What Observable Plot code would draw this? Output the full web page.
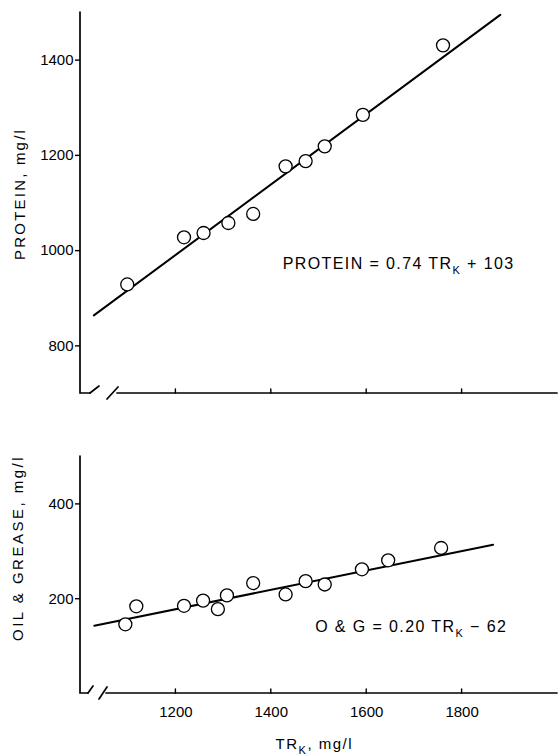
<!DOCTYPE html>
<html>
<head>
<meta charset="utf-8">
<script src="https://cdn.jsdelivr.net/npm/d3@7"></script>
<script src="https://cdn.jsdelivr.net/npm/@observablehq/plot@0.6"></script>
<style>
  html, body { margin: 0; padding: 0; background: #fff; }
  #chart > * { display: block; }
</style>
</head>
<body>
<div id="chart"></div>
<script>
// ---- data ----
const trkProtein = [1098, 1217, 1258, 1310, 1362, 1430, 1472, 1512, 1592, 1760];
const protein    = [929, 1028, 1037, 1058, 1077, 1177, 1188, 1219, 1285, 1431];

const trkOG      = [1094, 1117, 1217, 1257, 1288, 1307, 1362, 1430, 1472, 1512, 1590, 1645, 1756];
const oilGrease  = [146, 184, 185, 196, 178, 207, 233, 209, 237, 230, 262, 281, 307];

// regression lines (end points)
const proteinFitTrk = [1028, 1880];
const proteinFitVal = [864, 1495];
const ogFitTrk = [1029, 1865];
const ogFitVal = [143, 314];

const xTicks = [1200, 1400, 1600, 1800];
const proteinTicks = [800, 1000, 1200, 1400];
const ogTicks = [200, 400];

const proteinEquation = ["PROTEIN = 0.74 TR", "K", " + 103"];
const ogEquation = ["O & G = 0.20 TR", "K", " \u2212 62"];
const proteinTitle = "PROTEIN, mg/l";
const ogTitle = "OIL & GREASE, mg/l";
const xTitle = ["TR", "K", ", mg/l"];

// ---- helpers ----
const FONT = "Liberation Sans, Arial, sans-serif";
const topData = trkProtein.map((t, i) => ({trk: t, v: protein[i]}));
const botData = trkOG.map((t, i) => ({trk: t, v: oilGrease[i]}));
const topFit = proteinFitTrk.map((t, i) => ({trk: t, v: proteinFitVal[i]}));
const botFit = ogFitTrk.map((t, i) => ({trk: t, v: ogFitVal[i]}));

function richText(parent, parts, attrs) {
  const t = parent.append("text").attr("fill", "#000").attr("stroke", "none")
    .attr("font-family", FONT).attr("text-anchor", "start");
  for (const [k, v] of Object.entries(attrs)) t.attr(k, v);
  parts.forEach((p, i) => {
    const s = t.append("tspan").attr("fill", "#000").text(p);
    if (i === 1) s.attr("font-size", 11).attr("dy", 5);
    if (i === 2) s.attr("dy", -5);
  });
  return t;
}

function decorations(cfg) {
  return (index, scales) => {
    const x = scales.x, y = scales.y;
    const ox = x(cfg.xDomain[0]), right = x(cfg.xDomain[1]);
    const oy = y(cfg.yDomain[0]), top = y(cfg.yDomain[1]);
    const g = d3.create("svg:g");
    const lines = g.append("g").attr("fill", "none").attr("stroke", "#000")
      .attr("stroke-width", 1.7).attr("stroke-linecap", "round");
    // y axis line and corner
    lines.append("path").attr("d", `M${ox},${top}V${oy}H${ox + cfg.brk[0]}`);
    // axis break slashes
    lines.append("path").attr("d", `M${ox + cfg.brk[0]},${oy}L${ox + cfg.brk[1]},${oy - 7}`);
    lines.append("path").attr("d", `M${ox + cfg.brk[2]},${oy + 6}L${ox + cfg.brk[3]},${oy - 6}`);
    // x axis line
    lines.append("path").attr("d", `M${ox + cfg.brk[3] - 1},${oy}H${right}`);
    // inward x ticks
    for (const t of xTicks) {
      lines.append("path").attr("stroke-width", 1.4).attr("d", `M${x(t)},${oy}V${oy - 4}`);
    }
    // y title (rotated)
    g.append("text").attr("fill", "#000").attr("font-family", FONT)
      .attr("font-size", 15).attr("letter-spacing", cfg.titleSpacing)
      .attr("text-anchor", "middle").attr("dy", "0.35em")
      .attr("transform", `translate(${cfg.titleX},${y(cfg.titleAt)}) rotate(-90)`)
      .text(cfg.title);
    // equation
    richText(g, cfg.equation, {
      x: x(cfg.eqAt[0]), y: y(cfg.eqAt[1]), "font-size": 16, "letter-spacing": 1.4
    });
    if (cfg.xTitle) {
      richText(g, cfg.xTitle, {
        x: x(cfg.xTitleAt), y: cfg.xTitleY, "font-size": 15, "letter-spacing": 1.5
      });
    }
    return g.node();
  };
}

const common = {
  width: 558,
  marginLeft: 80,
  marginRight: 1,
  x: {domain: [1000, 2000], axis: null},
  style: {fontFamily: FONT, fontSize: "15px", background: "white", color: "black", overflow: "visible"}
};

const topPlot = Plot.plot({
  ...common,
  height: 400,
  marginTop: 12,
  marginBottom: 7,
  y: {domain: [700, 1500], axis: null},
  marks: [
    Plot.axisY(proteinTicks, {tickSize: 5, tickPadding: 2, tickFormat: d => String(d), label: null, fontSize: 15, strokeWidth: 1.4}),
    Plot.line(topFit, {x: "trk", y: "v", stroke: "black", strokeWidth: 2}),
    Plot.dot(topData, {x: "trk", y: "v", r: 6.5, fill: "white", stroke: "black", strokeWidth: 1.3}),
    decorations({
      xDomain: [1000, 2000], yDomain: [700, 1500], brk: [10, 19, 27, 38],
      title: proteinTitle, titleX: 20, titleAt: 1118, titleSpacing: 2.2,
      equation: proteinEquation, eqAt: [1425, 960]
    })
  ]
});

const botPlot = Plot.plot({
  ...common,
  height: 356,
  marginTop: 56,
  marginBottom: 63,
  y: {domain: [0, 500], axis: null},
  marks: [
    Plot.axisY(ogTicks, {tickSize: 5, tickPadding: 2, tickFormat: d => String(d), label: null, fontSize: 15, strokeWidth: 1.4}),
    Plot.axisX(xTicks, {tickSize: 0, tickPadding: 13, tickFormat: d => String(d), label: null, fontSize: 15}),
    Plot.line(botFit, {x: "trk", y: "v", stroke: "black", strokeWidth: 2}),
    Plot.dot(botData, {x: "trk", y: "v", r: 6.5, fill: "white", stroke: "black", strokeWidth: 1.3}),
    decorations({
      xDomain: [1000, 2000], yDomain: [0, 500], brk: [8, 13, 19, 27],
      title: ogTitle, titleX: 18, titleAt: 306, titleSpacing: 2.5,
      equation: ogEquation, eqAt: [1493, 129],
      xTitle: xTitle, xTitleAt: 1410, xTitleY: 349
    })
  ]
});

const chart = document.getElementById("chart");
chart.appendChild(topPlot);
chart.appendChild(botPlot);
</script>
</body>
</html>
